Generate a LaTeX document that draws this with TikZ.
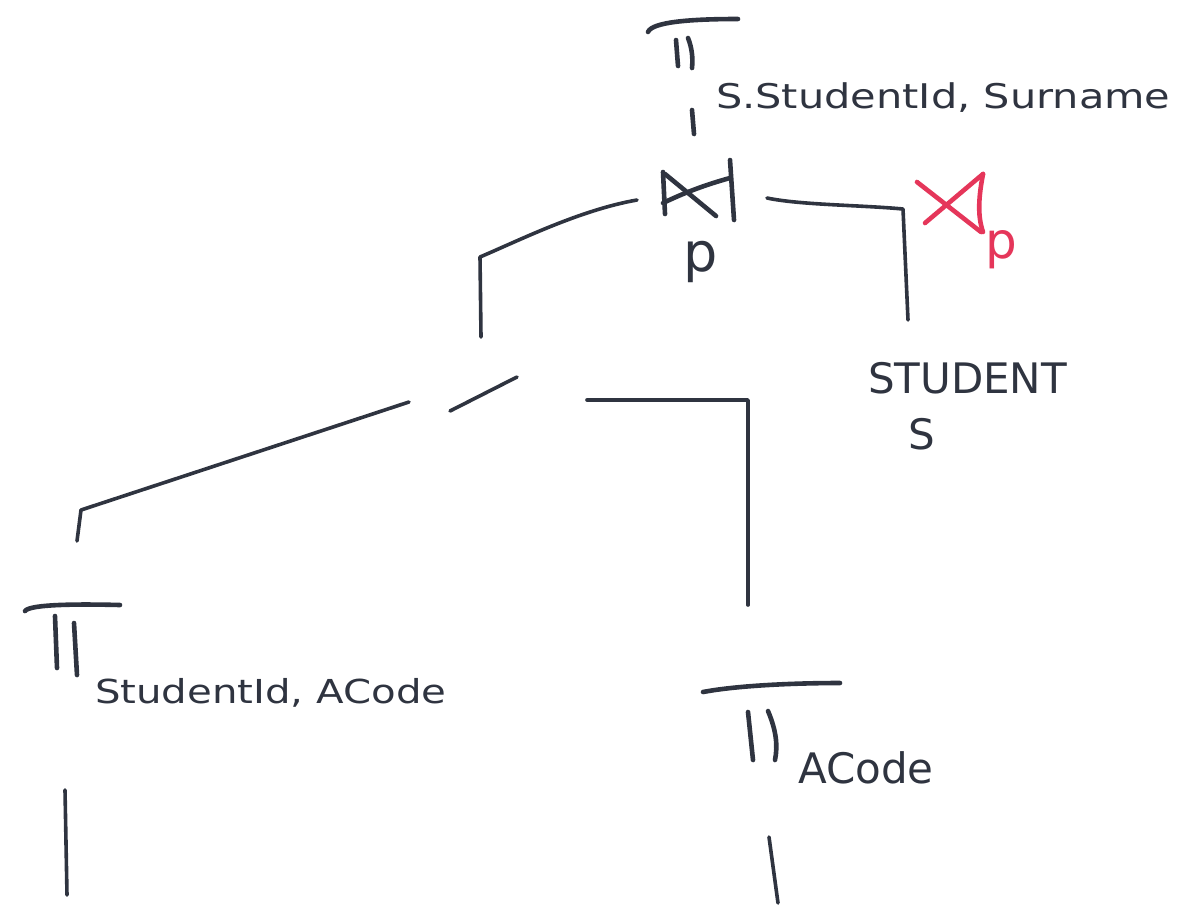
\documentclass[tikz,border=0pt]{standalone}
\usepackage{fontspec}
\newfontfamily\handA[FakeStretch=1.22]{DejaVu Sans}
\newfontfamily\handB{DejaVu Sans}
\definecolor{ink}{HTML}{2F3440}
\definecolor{redink}{HTML}{E5365A}
\tikzset{
  conn/.style={draw=ink, line width=3.6pt, line cap=round, line join=round},
  glyph/.style={draw=ink, line width=4.6pt, line cap=round, line join=round},
  redglyph/.style={draw=redink, line width=4.6pt, line cap=round, line join=round},
  lbl/.style={inner sep=0pt, outer sep=0pt, text=ink, anchor=base west},
}
\begin{document}
\begin{tikzpicture}[x=1pt, y=-1pt]
\useasboundingbox (0,0) rectangle (1204,919);
% ---------- top projection
\draw[glyph] (648,32) .. controls (652,22) and (690,19) .. (738,19);
\draw[glyph] (676,40) -- (678,66);
\draw[glyph] (688,38) .. controls (692,48) and (693,58) .. (692,68);
\draw[glyph] (692,110) -- (694,134);
\node[lbl, font=\handA\fontsize{34}{36}\selectfont] (ptop) at (716,108) {S.StudentId, Surname};
% ---------- join
\draw[glyph] (663,172) -- (665,214);
\draw[glyph] (665,174) -- (716,216);
\draw[glyph] (663,203) .. controls (690,190) and (712,183) .. (730,178);
\draw[glyph] (730,160) -- (734,220);
\node[lbl, font=\handB\fontsize{54}{56}\selectfont] (jp) at (683,271) {p};
% red semijoin
\draw[redglyph] (917,182) -- (981,232);
\draw[redglyph] (925,223) -- (983,174);
\draw[redglyph] (983,174) .. controls (979,195) and (977,215) .. (983,232);
\node[lbl, text=redink, font=\handB\fontsize{50}{52}\selectfont] (rp) at (985,258) {p};
% ---------- connectors from join
\coordinate (jl) at (637,200);
\coordinate (jlc) at (480,257);
\coordinate (jle) at (481,337);
\draw[conn] (jl) .. controls (580,210) and (520,240) .. (jlc) -- (jle);
\coordinate (jr) at (767,198);
\coordinate (jrc) at (903,209);
\coordinate (jre) at (908,320);
\draw[conn] (jr) .. controls (800,205) and (860,205) .. (jrc) -- (jre);
% STUDENT
\node[lbl, font=\handB\fontsize{42}{44}\selectfont] (stud) at (868,393) {STUDENT};
\node[lbl, font=\handB\fontsize{42}{44}\selectfont] (s) at (908,449) {S};
% ---------- middle connectors
\coordinate (m1a) at (517,377);
\coordinate (m1b) at (450,411);
\draw[conn] (m1a) -- (m1b);
\coordinate (m2a) at (409,402);
\coordinate (m2c) at (81,510);
\coordinate (m2e) at (77,541);
\draw[conn] (m2a) -- (m2c) -- (m2e);
\coordinate (m3a) at (587,400);
\coordinate (m3c) at (748,400);
\coordinate (m3e) at (748,605);
\draw[conn] (m3a) -- (m3c) -- (m3e);
% ---------- left projection
\draw[glyph] (25,611) .. controls (30,604) and (80,604) .. (120,605);
\draw[glyph] (55,616) -- (57,668);
\draw[glyph] (74,623) -- (77,675);
\node[lbl, font=\handA\fontsize{33}{35}\selectfont] (pleft) at (95,703) {StudentId, ACode};
\coordinate (lb1) at (65,790);
\coordinate (lb2) at (67,895);
\draw[conn] (lb1) -- (lb2);
% ---------- right projection
\draw[glyph] (703,692) .. controls (740,685) and (800,683) .. (840,683);
\draw[glyph] (748,712) -- (753,760);
\draw[glyph] (768,711) .. controls (776,730) and (778,745) .. (775,760);
\node[lbl, font=\handB\fontsize{42}{44}\selectfont] (pright) at (798,783) {ACode};
\coordinate (rb1) at (769,837);
\coordinate (rb2) at (778,903);
\draw[conn] (rb1) -- (rb2);
\end{tikzpicture}
\end{document}
